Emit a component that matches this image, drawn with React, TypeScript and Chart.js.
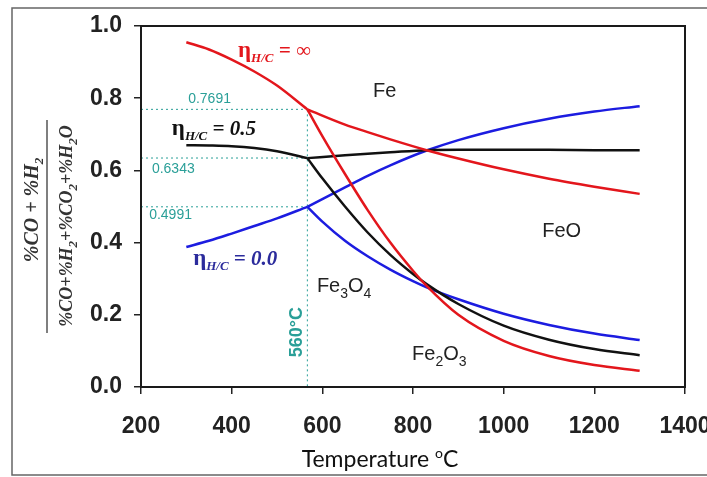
import { useEffect, useRef } from 'react';
import { Chart, registerables } from 'chart.js';

Chart.register(...registerables);

// ---- data ----
const xTickValues = [200, 400, 600, 800, 1000, 1200, 1400];
const yTickValues = [0, 0.2, 0.4, 0.6, 0.8, 1.0];

// below the 560 °C break (Fe3O4 / Fe boundary)
const tempsLow = [300, 350, 400, 450, 500, 567];
const redLow = [0.955, 0.935, 0.907, 0.874, 0.835, 0.769];
const blackLow = [0.670, 0.669, 0.667, 0.662, 0.653, 0.634];
const blueLow = [0.388, 0.405, 0.425, 0.446, 0.467, 0.499];

// FeO / Fe boundary above the break
const tempsUpper = [567, 650, 700, 750, 830, 900, 1000, 1100, 1200, 1300];
const redUpper = [0.769, 0.727, 0.706, 0.686, 0.656, 0.633, 0.603, 0.577, 0.555, 0.535];
const blackUpper = [0.634, 0.642, 0.646, 0.650, 0.656, 0.657, 0.657, 0.657, 0.656, 0.656];
const blueUpper = [0.499, 0.553, 0.585, 0.614, 0.655, 0.684, 0.717, 0.743, 0.763, 0.778];

// Fe3O4 / FeO boundary above the break
const tempsLower = [567, 600, 650, 700, 750, 800, 830, 900, 1000, 1100, 1200, 1300];
const redLower = [0.769, 0.695, 0.590, 0.490, 0.400, 0.322, 0.280, 0.200, 0.128, 0.086, 0.061, 0.045];
const blackLower = [0.634, 0.578, 0.500, 0.428, 0.366, 0.313, 0.285, 0.230, 0.170, 0.131, 0.105, 0.088];
const blueLower = [0.499, 0.458, 0.405, 0.362, 0.325, 0.293, 0.276, 0.243, 0.203, 0.172, 0.148, 0.130];

const breakTemp = 567;
const breakValues = [0.7691, 0.6343, 0.4991];
const breakLabels = ['0.7691', '0.6343', '0.4991'];

const RED = '#e3161c';
const BLACK = '#111111';
const BLUE = '#1c1ce0';
const TEAL = '#2a9f98';

type Run = { t: string; font: string; dy?: number };

function runsWidth(ctx: CanvasRenderingContext2D, runs: Run[]) {
  let w = 0;
  for (const r of runs) { ctx.font = r.font; w += ctx.measureText(r.t).width; }
  return w;
}
function drawRuns(ctx: CanvasRenderingContext2D, x: number, y: number, runs: Run[], color: string) {
  ctx.fillStyle = color;
  ctx.textBaseline = 'alphabetic';
  ctx.textAlign = 'left';
  let cx = x;
  for (const r of runs) {
    ctx.font = r.font;
    ctx.fillText(r.t, cx, y + (r.dy || 0));
    cx += ctx.measureText(r.t).width;
  }
}

const pts = (ts: number[], vs: number[]) => ts.map((t, i) => ({ x: t, y: vs[i] }));

const decor = {
  id: 'decor',
  beforeDraw(chart: any) {
    const ctx = chart.ctx;
    ctx.save();
    ctx.fillStyle = '#ffffff';
    ctx.fillRect(0, 0, chart.width, chart.height);
    ctx.restore();
  },
  beforeDatasetsDraw(chart: any) {
    const ctx = chart.ctx;
    const xs = chart.scales.x, ys = chart.scales.y;
    const bx = xs.getPixelForValue(breakTemp);
    ctx.save();
    ctx.strokeStyle = TEAL;
    ctx.lineWidth = 1;
    ctx.setLineDash([2, 3]);
    for (const v of breakValues) {
      const py = ys.getPixelForValue(v);
      ctx.beginPath();
      ctx.moveTo(chart.chartArea.left, py);
      ctx.lineTo(bx, py);
      ctx.stroke();
    }
    ctx.beginPath();
    ctx.moveTo(bx, ys.getPixelForValue(breakValues[0]));
    ctx.lineTo(bx, chart.chartArea.bottom);
    ctx.stroke();
    ctx.restore();
  },
  afterDatasetsDraw(chart: any) {
    const ctx = chart.ctx;
    const xs = chart.scales.x, ys = chart.scales.y;
    const P = (t: number, v: number) => [xs.getPixelForValue(t), ys.getPixelForValue(v)];
    const a = chart.chartArea;
    ctx.save();
    // plot box
    ctx.strokeStyle = '#1a1a1a';
    ctx.lineWidth = 2;
    ctx.strokeRect(a.left, a.top, a.right - a.left, a.bottom - a.top);

    // break values
    ctx.font = '14px "Liberation Sans"';
    ctx.fillStyle = TEAL;
    const numPos = [[304, 0.787], [224, 0.593], [218, 0.465]];
    breakLabels.forEach((s, i) => {
      const [px, py] = P(numPos[i][0], numPos[i][1]);
      ctx.fillText(s, px, py);
    });

    // 560°C
    {
      const [px, py] = P(544, 0.152);
      ctx.save();
      ctx.translate(px, py);
      ctx.rotate(-Math.PI / 2);
      ctx.font = 'bold 18px "Liberation Sans"';
      ctx.fillStyle = TEAL;
      ctx.textAlign = 'center';
      ctx.textBaseline = 'middle';
      ctx.fillText('560°C', 0, 0);
      ctx.restore();
    }

    // eta labels
    const eta = (rest: string): Run[] => [
      { t: 'η', font: 'bold 23px "Liberation Serif"' },
      { t: 'H/C', font: 'bold italic 13px "Liberation Serif"', dy: 5 },
      { t: ' = ' + rest, font: 'bold italic 21px "Liberation Serif"' },
    ];
    let [px, py] = P(414, 0.914);
    drawRuns(ctx, px, py, eta('∞'), RED);
    [px, py] = P(268, 0.698);
    drawRuns(ctx, px, py, eta('0.5'), BLACK);
    [px, py] = P(315, 0.338);
    drawRuns(ctx, px, py, eta('0.0'), '#2b2b9c');

    // phase labels
    const F = '20px "Liberation Sans"';
    const S = '14px "Liberation Sans"';
    [px, py] = P(712, 0.803);
    drawRuns(ctx, px, py, [{ t: 'Fe', font: F }], '#222');
    [px, py] = P(1085, 0.416);
    drawRuns(ctx, px, py, [{ t: 'FeO', font: F }], '#222');
    [px, py] = P(588, 0.263);
    drawRuns(ctx, px, py, [{ t: 'Fe', font: F }, { t: '3', font: S, dy: 6 }, { t: 'O', font: F }, { t: '4', font: S, dy: 6 }], '#222');
    [px, py] = P(798, 0.075);
    drawRuns(ctx, px, py, [{ t: 'Fe', font: F }, { t: '2', font: S, dy: 6 }, { t: 'O', font: F }, { t: '3', font: S, dy: 6 }], '#222');

    ctx.restore();
  },
  afterDraw(chart: any) {
    const ctx = chart.ctx;
    ctx.save();
    // outer frame
    ctx.strokeStyle = '#666';
    ctx.lineWidth = 1.5;
    ctx.beginPath();
    ctx.moveTo(chart.width + 2, 8);
    ctx.lineTo(12, 8);
    ctx.lineTo(12, 475);
    ctx.lineTo(chart.width + 2, 475);
    ctx.stroke();

    // x title
    const xt: Run[] = [
      { t: 'Temperature ', font: '23px Lato' },
      { t: 'o', font: '14px Lato', dy: -9 },
      { t: 'C', font: '23px Lato' },
    ];
    const w = runsWidth(ctx, xt);
    drawRuns(ctx, 380 - w / 2, 467, xt, '#111');

    // y title (fraction, rotated)
    const NF = 'bold italic 20px "Liberation Serif"';
    const DF = 'bold italic 18px "Liberation Serif"';
    const SF = 'bold italic 13px "Liberation Serif"';
    const num: Run[] = [{ t: '%CO + %H', font: NF }, { t: '2', font: SF, dy: 5 }];
    const den: Run[] = [
      { t: '%CO+%H', font: DF }, { t: '2', font: SF, dy: 5 },
      { t: '+%CO', font: DF }, { t: '2', font: SF, dy: 5 },
      { t: '+%H', font: DF }, { t: '2', font: SF, dy: 5 },
      { t: 'O', font: DF },
    ];
    ctx.save();
    ctx.translate(38, 210);
    ctx.rotate(-Math.PI / 2);
    drawRuns(ctx, -runsWidth(ctx, num) / 2, 0, num, '#333');
    ctx.restore();
    ctx.save();
    ctx.translate(72, 226);
    ctx.rotate(-Math.PI / 2);
    drawRuns(ctx, -runsWidth(ctx, den) / 2, 0, den, '#333');
    ctx.restore();
    ctx.strokeStyle = '#555';
    ctx.lineWidth = 1.5;
    ctx.beginPath();
    ctx.moveTo(47, 120);
    ctx.lineTo(47, 333);
    ctx.stroke();
    ctx.restore();
  },
};

const line = (data: { x: number; y: number }[], color: string) => ({
  data,
  borderColor: color,
  backgroundColor: color,
  borderWidth: 2.5,
  pointRadius: 0,
  fill: false,
  cubicInterpolationMode: 'monotone' as const,
});

export default function App() {
  const ref = useRef<HTMLCanvasElement>(null);
  useEffect(() => {
    document.body.style.margin = '0';
    const tickFont = { family: '"Liberation Sans", Arial, sans-serif', size: 23, weight: 'bold' as const };
    const chart = new Chart(ref.current!, {
      type: 'line',
      data: {
        datasets: [
          line(pts(tempsLow, redLow), RED),
          line(pts(tempsUpper, redUpper), RED),
          line(pts(tempsLower, redLower), RED),
          line(pts(tempsLow, blackLow), BLACK),
          line(pts(tempsUpper, blackUpper), BLACK),
          line(pts(tempsLower, blackLower), BLACK),
          line(pts(tempsLow, blueLow), BLUE),
          line(pts(tempsUpper, blueUpper), BLUE),
          line(pts(tempsLower, blueLower), BLUE),
        ],
      },
      options: {
        responsive: false,
        devicePixelRatio: 1,
        animation: false,
        layout: { padding: { left: 0, top: 26, right: 22, bottom: 0 } },
        plugins: { legend: { display: false }, tooltip: { enabled: false }, title: { display: false } },
        scales: {
          x: {
            type: 'linear',
            min: 200,
            max: 1400,
            afterBuildTicks: (s: any) => { s.ticks = xTickValues.map((v) => ({ value: v })); },
            ticks: { font: tickFont, color: '#222', padding: 19, maxRotation: 0, autoSkip: false, callback: (v: any) => String(v) },
            grid: { drawOnChartArea: false, drawTicks: true, tickLength: 7, color: '#222', lineWidth: 1.5 },
            border: { display: false },
            afterFit: (s: any) => { s.height = 90; s.paddingLeft = 0; s.paddingRight = 0; },
          },
          y: {
            type: 'linear',
            min: 0,
            max: 1,
            afterBuildTicks: (s: any) => { s.ticks = yTickValues.map((v) => ({ value: v })); },
            ticks: { font: tickFont, color: '#222', padding: 12, callback: (v: any) => Number(v).toFixed(1) },
            grid: { drawOnChartArea: false, drawTicks: true, tickLength: 7, color: '#222', lineWidth: 1.5 },
            border: { display: false },
            afterFit: (s: any) => { s.width = 141; s.paddingTop = 0; s.paddingBottom = 0; },
          },
        },
      },
      plugins: [decor],
    });
    return () => chart.destroy();
  }, []);
  return (
    <canvas ref={ref} width={707} height={477} style={{ display: 'block', width: 707, height: 477 }} />
  );
}
